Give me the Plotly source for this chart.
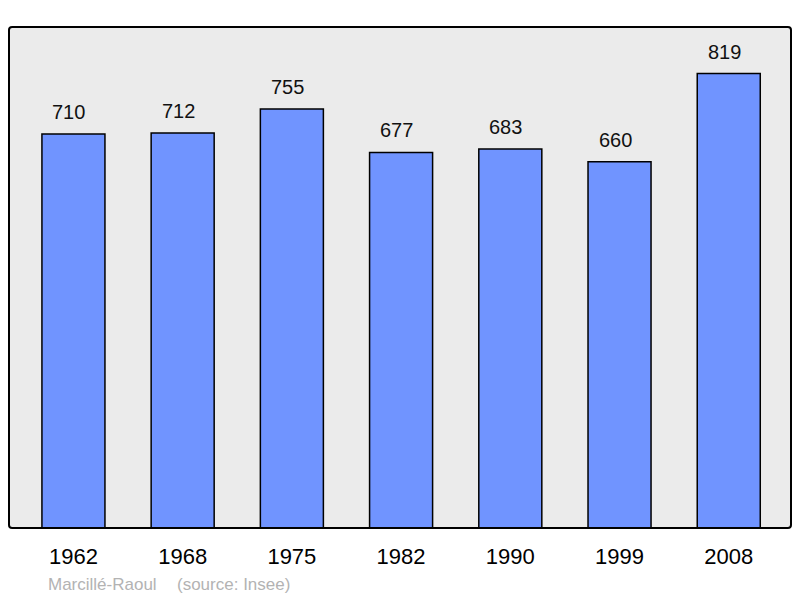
import plotly.graph_objects as go

years = ["1962", "1968", "1975", "1982", "1990", "1999", "2008"]
population = [710, 712, 755, 677, 683, 660, 819]
place_text = "Marcillé-Raoul"
source_text = "(source: Insee)"

W, H = 800, 598
L, R, T, B = 9, 9, 27, 70
pw, ph = W - L - R, H - T - B
FONT = "Liberation Sans, Arial, sans-serif"

fig = go.Figure()
fig.add_trace(go.Bar(
    x=list(range(len(years))), y=population,
    width=0.577,
    marker=dict(color="#7094ff", line=dict(color="#000000", width=1.5)),
    hoverinfo="skip",
))

annotations = []
for i, v in enumerate(population):
    annotations.append(dict(
        x=i, y=v, xref="x", yref="y", text=str(v), showarrow=False,
        yanchor="middle", xanchor="center", yshift=22, xshift=-4.5,
        font=dict(family=FONT, size=20, color="#111111"),
    ))
annotations.append(dict(
    text=place_text, xref="paper", yref="paper",
    x=(46 - L) / pw, y=-(584 - (H - B)) / ph,
    xanchor="left", yanchor="middle", showarrow=False,
    font=dict(family=FONT, size=17, color="#b3b3b3"),
))
annotations.append(dict(
    text=source_text, xref="paper", yref="paper",
    x=(175 - L) / pw, y=-(584 - (H - B)) / ph,
    xanchor="left", yanchor="middle", showarrow=False,
    font=dict(family=FONT, size=17, color="#b3b3b3"),
))

fig.update_layout(
    width=W, height=H,
    margin=dict(l=L, r=R, t=T, b=B, pad=0),
    paper_bgcolor="#ffffff", plot_bgcolor="#ebebeb",
    showlegend=False,
    font=dict(family=FONT),
    xaxis=dict(
        range=[-0.59, 6.57], tickmode="array",
        tickvals=list(range(len(years))), ticktext=years,
        showgrid=False, zeroline=False, showline=False, ticks="",
        tickfont=dict(family=FONT, size=22, color="#000000"),
        ticklabelstandoff=13, fixedrange=True,
    ),
    yaxis=dict(range=[0, 903], showgrid=False, zeroline=False, showline=False,
               showticklabels=False, ticks="", fixedrange=True),
    shapes=[dict(
        type="path", xref="paper", yref="paper",
        path="M 0.004,0 L 0.996,0 Q 1,0 1,0.006 L 1,0.994 Q 1,1 0.996,1 L 0.004,1 Q 0,1 0,0.994 L 0,0.006 Q 0,0 0.004,0 Z",
        line=dict(color="#000000", width=2), fillcolor="rgba(0,0,0,0)", layer="above",
    )],
    annotations=annotations,
)

fig.write_html("out.html", config={"displayModeBar": False},
               post_script="document.body.style.margin='0';document.body.style.overflow='hidden';")
